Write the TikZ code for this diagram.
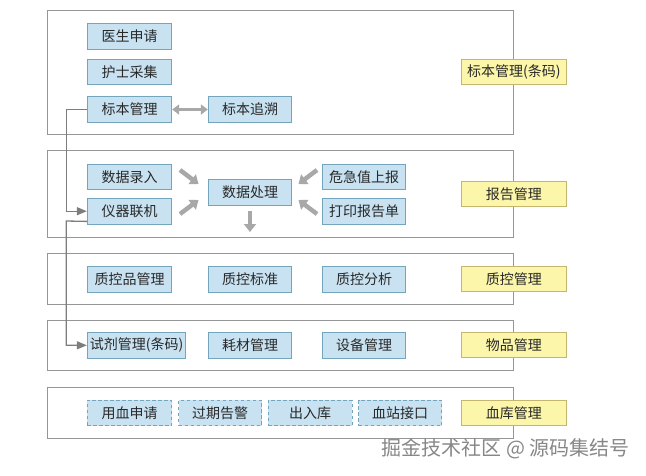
\documentclass[tikz,border=0pt]{standalone}
\usepackage{fontspec}
\setmainfont{Noto Sans CJK SC}
\usetikzlibrary{arrows.meta}
\definecolor{panelc}{RGB}{150,150,150}
\definecolor{bluef}{RGB}{200,226,242}
\definecolor{blued}{RGB}{115,165,188}
\definecolor{yellf}{RGB}{252,246,170}
\definecolor{yelld}{RGB}{196,182,110}
\definecolor{arrc}{RGB}{168,168,168}
\definecolor{connc}{RGB}{125,125,125}
\definecolor{txtc}{RGB}{40,40,40}
\definecolor{wmc}{RGB}{135,135,135}
\begin{document}
\begin{tikzpicture}[x=1pt,y=-1pt,
  panel/.style={draw=panelc,line width=1pt,inner sep=0pt},
  bbox/.style={draw=blued,fill=bluef,line width=0.9pt,inner sep=0pt,minimum height=25.5pt,text=txtc,font=\fontsize{14}{16}\selectfont},
  dbox/.style={bbox,dash pattern=on 3.5pt off 2.5pt},
  ybox/.style={draw=yelld,fill=yellf,line width=0.9pt,inner sep=0pt,minimum width=104.5pt,minimum height=25pt,text=txtc,font=\fontsize{14}{16}\selectfont},
  w84/.style={minimum width=84.4pt},
  w83/.style={minimum width=83.4pt},
  fat/.style={draw=arrc,line width=4.5pt,-{Triangle[width=12pt,length=8pt]}},
  dbl/.style={draw=arrc,line width=3.5pt,{Triangle[width=10pt,length=7pt]}-{Triangle[width=10pt,length=7pt]}},
  conn/.style={draw=connc,line width=1.3pt,-{Triangle[width=8pt,length=10pt]}}
]
\useasboundingbox (0,0) rectangle (646,475);
% panels
\node[panel,minimum width=466pt,minimum height=124pt] (p1) at (280,72) {};
\node[panel,minimum width=466pt,minimum height=87pt] (p2) at (280,193.5) {};
\node[panel,minimum width=466pt,minimum height=51pt] (p3) at (280,278.5) {};
\node[panel,minimum width=466pt,minimum height=50pt] (p4) at (280,345) {};
\node[panel,minimum width=466pt,minimum height=51pt] (p5) at (280,412.5) {};
% panel 1
\node[bbox,w84] (yssq) at (129.5,36.3) {医生申请};
\node[bbox,w84] (hscj) at (129.5,71.8) {护士采集};
\node[bbox,w84] (bbgl) at (129.5,109.5) {标本管理};
\node[bbox,w83] (bbzs) at (250,109.5) {标本追溯};
\node[ybox] (y1) at (513.75,71.8) {标本管理(条码)};
% panel 2
\node[bbox,w84] (sjlr) at (129.5,176.8) {数据录入};
\node[bbox,w84] (yqlj) at (129.5,211.2) {仪器联机};
\node[bbox,w83] (sjcl) at (250,192.2) {数据处理};
\node[bbox,w83] (wjz) at (364,176.7) {危急值上报};
\node[bbox,w83] (dybg) at (364,211.2) {打印报告单};
\node[ybox] (y2) at (513.75,193.9) {报告管理};
% panel 3
\node[bbox,w84] (zkp) at (129.5,279.2) {质控品管理};
\node[bbox,w83] (zkbz) at (250,279.2) {质控标准};
\node[bbox,w83] (zkfx) at (364,279.2) {质控分析};
\node[ybox] (y3) at (513.75,279.2) {质控管理};
% panel 4
\node[bbox,minimum width=98.4pt] (sjgl) at (136.5,345.3) {试剂管理(条码)};
\node[bbox,w83] (hcgl) at (250,345.3) {耗材管理};
\node[bbox,w83] (sbgl) at (364,345.3) {设备管理};
\node[ybox] (y4) at (513.75,345.3) {物品管理};
% panel 5
\node[dbox,w84] (yxsq) at (129.5,413) {用血申请};
\node[dbox,minimum width=83pt] (gqgj) at (220,413) {过期告警};
\node[dbox,minimum width=83.5pt] (crk) at (310.2,413) {出入库};
\node[dbox,minimum width=83.3pt] (xzjk) at (400.2,413) {血站接口};
\node[ybox] (y5) at (513.75,413) {血库管理};
% arrows
\draw[dbl] (bbgl.east) -- (bbzs.west);
\coordinate (a1s) at (180,170);   \coordinate (a1e) at (198.5,184);
\coordinate (a2s) at (180,214);   \coordinate (a2e) at (198.5,200);
\coordinate (a3s) at (317,170);   \coordinate (a3e) at (298.5,184);
\coordinate (a4s) at (317,214);   \coordinate (a4e) at (298.5,200);
\coordinate (a5s) at (250,210.5); \coordinate (a5e) at (250,232);
\draw[fat] (a1s) -- (a1e);
\draw[fat] (a2s) -- (a2e);
\draw[fat] (a3s) -- (a3e);
\draw[fat] (a4s) -- (a4e);
\draw[fat] (a5s) -- (a5e);
\coordinate (c1) at (66.7,109.5);
\coordinate (c2) at (66.2,221);
\draw[conn] (bbgl.west) -- (c1) |- (yqlj.west);
\draw[conn] ([yshift=3pt]yqlj.south west) -- (c2) |- (sjgl.west);
% watermark
\node[text=wmc,font=\fontsize{20}{22}\selectfont,inner sep=0pt] (wm) at (505.5,448.5) {掘金技术社区 @ 源码集结号};
\end{tikzpicture}
\end{document}
